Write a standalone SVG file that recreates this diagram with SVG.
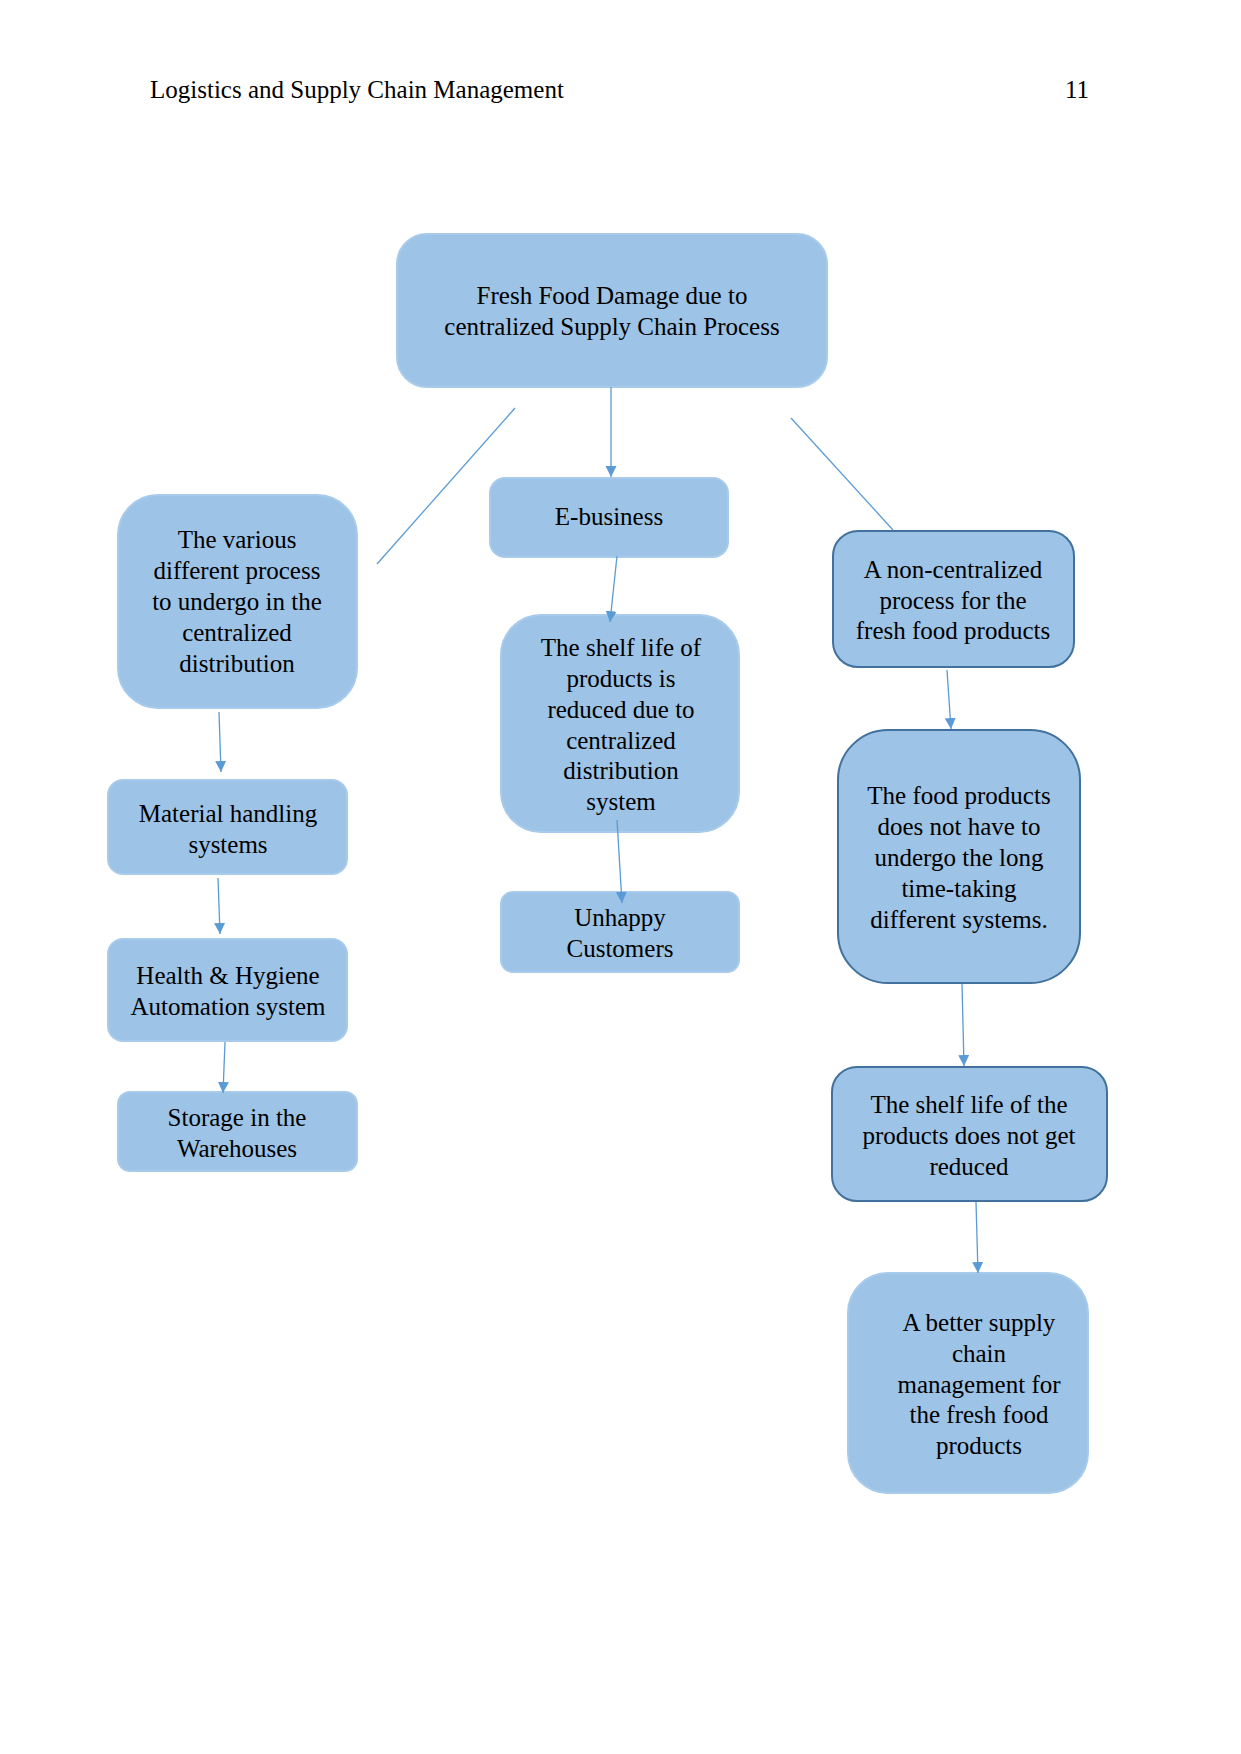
<svg xmlns="http://www.w3.org/2000/svg" width="1241" height="1754" viewBox="0 0 1241 1754">
<style>
text{font-family:"Liberation Serif","Times New Roman",serif;font-size:25px;fill:#000;text-anchor:middle}
.hdr{text-anchor:start}
.pg{text-anchor:end}
.box{fill:#9DC3E6;stroke:#A8CBEB;stroke-width:2}
.dbox{fill:#9DC3E6;stroke:#41719C;stroke-width:2}
.ln{stroke:#5B9BD5;stroke-width:1.3;fill:none}
.arr{marker-end:url(#ah)}
</style>
<defs>
<marker id="ah" markerUnits="userSpaceOnUse" markerWidth="12" markerHeight="12" refX="11" refY="5.5" orient="auto">
<path d="M0,0 L11,5.5 L0,11 z" fill="#5B9BD5"/>
</marker>
</defs>
<rect width="1241" height="1754" fill="#fff"/>
<text class="hdr" x="150" y="98">Logistics and Supply Chain Management</text>
<text class="pg" x="1089" y="98">11</text>

<g id="n-top"><rect class="box" x="397" y="234" width="430" height="153" rx="30"/>
<text x="612" y="304">Fresh Food Damage due to</text><text x="612" y="335">centralized Supply Chain Process</text></g>

<g id="n-ebiz"><rect class="box" x="490" y="478" width="238" height="79" rx="15"/>
<text x="609" y="525">E-business</text></g>

<g id="n-shelf"><rect class="box" x="501" y="615" width="238" height="217" rx="40"/>
<text x="621" y="656">The shelf life of</text><text x="621" y="687">products is</text><text x="621" y="718">reduced due to</text><text x="621" y="749">centralized</text><text x="621" y="779">distribution</text><text x="621" y="810">system</text></g>

<g id="n-unhappy"><rect class="box" x="501" y="892" width="238" height="80" rx="12"/>
<text x="620" y="926">Unhappy</text><text x="620" y="957">Customers</text></g>

<g id="n-various"><rect class="box" x="118" y="495" width="239" height="213" rx="40"/>
<text x="237" y="548">The various</text><text x="237" y="579">different process</text><text x="237" y="610">to undergo in the</text><text x="237" y="641">centralized</text><text x="237" y="672">distribution</text></g>

<g id="n-material"><rect class="box" x="108" y="780" width="239" height="94" rx="15"/>
<text x="228" y="822">Material handling</text><text x="228" y="853">systems</text></g>

<g id="n-health"><rect class="box" x="108" y="939" width="239" height="102" rx="15"/>
<text x="228" y="984">Health &amp; Hygiene</text><text x="228" y="1015">Automation system</text></g>

<g id="n-storage"><rect class="box" x="118" y="1092" width="239" height="79" rx="12"/>
<text x="237" y="1126">Storage in the</text><text x="237" y="1157">Warehouses</text></g>

<g id="n-noncentral"><rect class="dbox" x="833" y="531" width="241" height="136" rx="25"/>
<text x="953" y="578">A non-centralized</text><text x="953" y="609">process for the</text><text x="953" y="639">fresh food products</text></g>

<g id="n-food"><rect class="dbox" x="838" y="730" width="242" height="253" rx="50"/>
<text x="959" y="804">The food products</text><text x="959" y="835">does not have to</text><text x="959" y="866">undergo the long</text><text x="959" y="897">time-taking</text><text x="959" y="928">different systems.</text></g>

<g id="n-notreduced"><rect class="dbox" x="832" y="1067" width="275" height="134" rx="25"/>
<text x="969" y="1113">The shelf life of the</text><text x="969" y="1144">products does not get</text><text x="969" y="1175">reduced</text></g>

<g id="n-better"><rect class="box" x="848" y="1273" width="240" height="220" rx="40"/>
<text x="979" y="1331">A better supply</text><text x="979" y="1362">chain</text><text x="979" y="1393">management for</text><text x="979" y="1423">the fresh food</text><text x="979" y="1454">products</text></g>

<g id="connectors">
<line class="ln arr" x1="611" y1="387" x2="611" y2="477"/>
<line class="ln" x1="515" y1="408" x2="377" y2="564"/>
<line class="ln" x1="791" y1="418" x2="893" y2="530"/>
<line class="ln arr" x1="617" y1="556" x2="610" y2="622"/>
<line class="ln arr" x1="617" y1="820" x2="622" y2="903"/>
<line class="ln arr" x1="219" y1="712" x2="221" y2="772"/>
<line class="ln arr" x1="218" y1="878" x2="220" y2="934"/>
<line class="ln arr" x1="225" y1="1042" x2="223" y2="1093"/>
<line class="ln arr" x1="947" y1="670" x2="951" y2="729"/>
<line class="ln arr" x1="962" y1="984" x2="964" y2="1066"/>
<line class="ln arr" x1="976" y1="1202" x2="978" y2="1273"/>
</g>
</svg>
